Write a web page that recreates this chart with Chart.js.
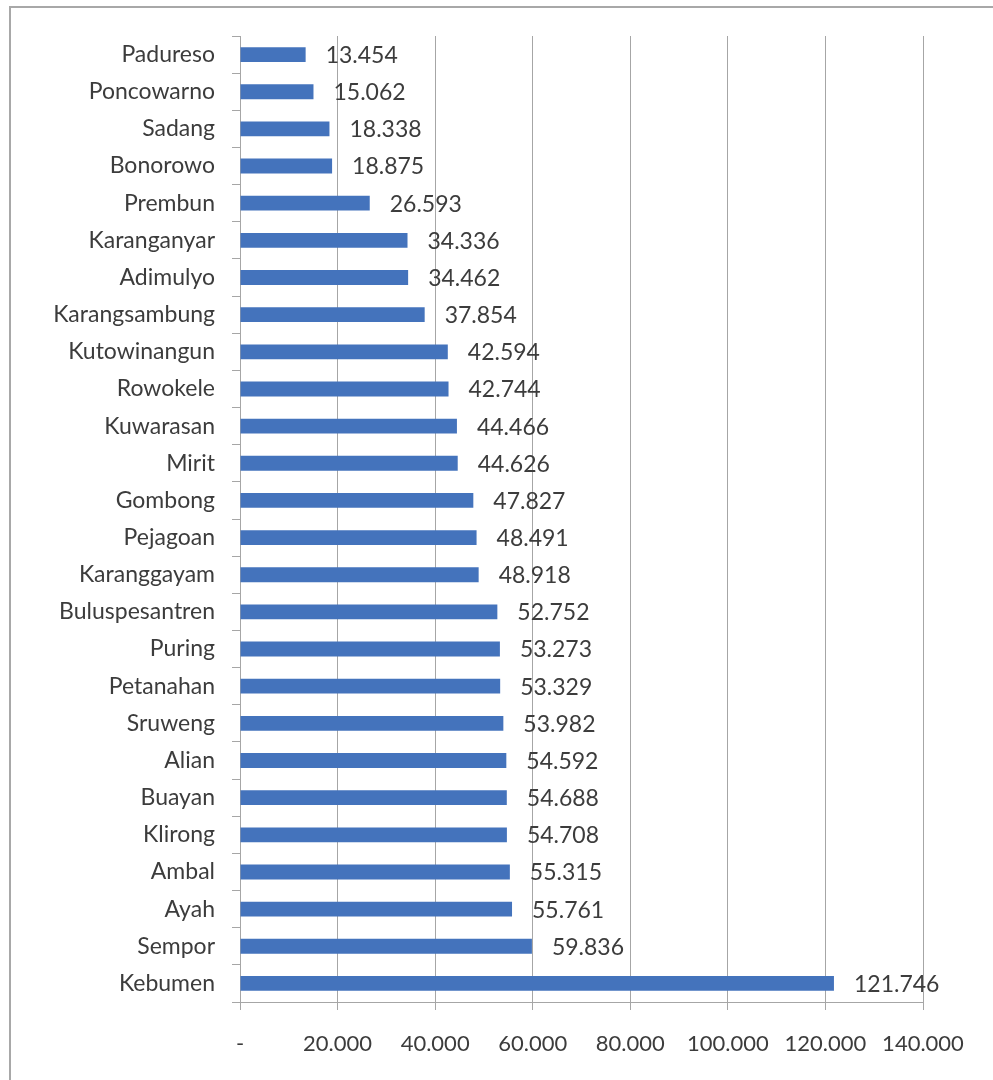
<!DOCTYPE html>
<html>
<head>
<meta charset="utf-8">
<script src="https://cdn.jsdelivr.net/npm/chart.js@4/dist/chart.umd.min.js"></script>
<style>
  html, body { margin: 0; padding: 0; background: #fff; }
  #wrap { position: relative; width: 993px; height: 1080px; overflow: hidden; }
  #frame { position: absolute; left: 9px; top: 6px; width: 1100px; height: 1200px; border-left: 2px solid #a8a8a8; border-top: 2px solid #a8a8a8; pointer-events: none; }
  canvas { position: absolute; left: 0; top: 0; }
</style>
</head>
<body>
<div id="wrap">
  <canvas id="c" width="993" height="1080"></canvas>
  <div id="frame"></div>
</div>
<script>
const categories = ["Padureso","Poncowarno","Sadang","Bonorowo","Prembun","Karanganyar","Adimulyo","Karangsambung","Kutowinangun","Rowokele","Kuwarasan","Mirit","Gombong","Pejagoan","Karanggayam","Buluspesantren","Puring","Petanahan","Sruweng","Alian","Buayan","Klirong","Ambal","Ayah","Sempor","Kebumen"];
const values = [13454,15062,18338,18875,26593,34336,34462,37854,42594,42744,44466,44626,47827,48491,48918,52752,53273,53329,53982,54592,54688,54708,55315,55761,59836,121746];
const xTicks = [0,20000,40000,60000,80000,100000,120000,140000];

function fmt(v) {
  if (v === 0) return "-";
  return String(Math.round(v)).replace(/\B(?=(\d{3})+(?!\d))/g, ".");
}

const FONT = "Lato, 'Open Sans', sans-serif";
const TXT = "#3c3c3c";

const labelPlugin = {
  id: "barLabels",
  afterDatasetsDraw(chart) {
    const ctx = chart.ctx;
    const meta = chart.getDatasetMeta(0);
    ctx.save();
    ctx.font = "23px " + FONT;
    ctx.fillStyle = TXT;
    ctx.textAlign = "left";
    ctx.textBaseline = "middle";
    meta.data.forEach((bar, i) => {
      ctx.fillText(fmt(values[i]), bar.x + 20, bar.y + 1);
    });
    ctx.restore();
  }
};

new Chart(document.getElementById("c"), {
  type: "bar",
  data: {
    labels: categories,
    datasets: [{
      data: values,
      backgroundColor: "#4473BC",
      borderWidth: 0,
      barPercentage: 0.4,
      categoryPercentage: 1
    }]
  },
  options: {
    indexAxis: "y",
    responsive: false,
    animation: false,
    devicePixelRatio: 1,
    layout: { padding: { left: 0, right: 70, top: 36, bottom: 0 } },
    plugins: { legend: { display: false }, tooltip: { enabled: false } },
    scales: {
      x: {
        min: 0, max: 140000,
        afterBuildTicks(scale) { scale.ticks = xTicks.map(v => ({ value: v })); },
        afterFit(scale) { scale.height = 78; },
        ticks: {
          callback: v => fmt(v),
          font: { size: 22, family: FONT },
          color: TXT,
          padding: 21,
          maxRotation: 0,
          autoSkip: false
        },
        grid: { color: "#a6a6a6", lineWidth: 1, tickLength: 8, drawTicks: true },
        border: { color: "#a6a6a6", width: 1 }
      },
      y: {
        afterFit(scale) { scale.width = 240; },
        ticks: {
          font: { size: 23, family: FONT },
          color: TXT,
          padding: 17,
          autoSkip: false
        },
        grid: { drawOnChartArea: false, color: "#a6a6a6", tickLength: 8, offset: true },
        border: { color: "#a6a6a6", width: 1 }
      }
    }
  },
  plugins: [labelPlugin]
});
</script>
</body>
</html>
